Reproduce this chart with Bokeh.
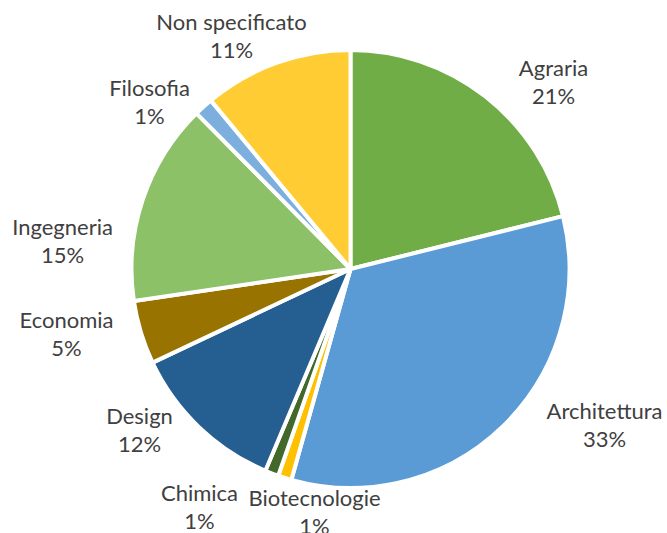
import math
from bokeh.plotting import figure
from bokeh.models import Range1d, ColumnDataSource
from bokeh.core.properties import value
from bokeh.embed import file_html
from bokeh.resources import INLINE

# ---- data ----
categories = ["Agraria", "Architettura", "Biotecnologie", "Chimica", "Design",
              "Economia", "Ingegneria", "Filosofia", "Non specificato"]
shares = [21.1, 33.2, 1.0, 1.0, 11.6, 4.7, 14.9, 1.4, 11.0]
colors = ["#70AD47", "#5B9BD5", "#FFC000", "#43682B", "#255E91",
          "#997300", "#8CC168", "#7CAFDD", "#FFCD33"]

# ---- layout (pixel positions of label centres / baselines in the picture) ----
label_x = [553, 604, 314, 199, 139, 66, 62, 149, 231]
label_base_y = [67, 410, 497, 492, 415, 319, 226, 87, 21]
line_gap = 28

W, H = 667, 533
CX_PX, CY_PX, R = 350, 268.5, 219


def to_x(px):
    return px


def to_y(py):
    return H - py


total = sum(shares)
starts, ends = [], []
cum = 0.0
for s in shares:
    a0 = cum / total
    cum += s
    a1 = cum / total
    # clockwise from 12 o'clock
    starts.append(math.pi / 2 - 2 * math.pi * a1)
    ends.append(math.pi / 2 - 2 * math.pi * a0)

pct_labels = [f"{round(s / total * 100)}%" for s in shares]

src = ColumnDataSource(dict(start=starts, end=ends, color=colors, cat=categories))

p = figure(width=W, height=H, output_backend="svg", toolbar_location=None,
           x_range=Range1d(0, W), y_range=Range1d(0, H), min_border=0)
p.axis.visible = False
p.grid.visible = False
p.outline_line_color = None
p.background_fill_color = "white"
p.border_fill_color = "white"

p.wedge(x=to_x(CX_PX), y=to_y(CY_PX), radius=R, start_angle="start", end_angle="end",
        fill_color="color", line_color="white", line_width=4, source=src)

lx = [to_x(x) for x in label_x]
ly1 = [to_y(y) for y in label_base_y]
ly2 = [to_y(y + line_gap) for y in label_base_y]

font = value("Lato")
p.text(x=lx, y=ly1, text=categories, text_align="center", text_baseline="alphabetic",
       text_font=font, text_font_size="22px", text_color="#404040")
p.text(x=lx, y=ly2, text=pct_labels, text_align="center", text_baseline="alphabetic",
       text_font=font, text_font_size="22px", text_color="#404040")

open("out.html", "w").write(file_html(p, INLINE))
